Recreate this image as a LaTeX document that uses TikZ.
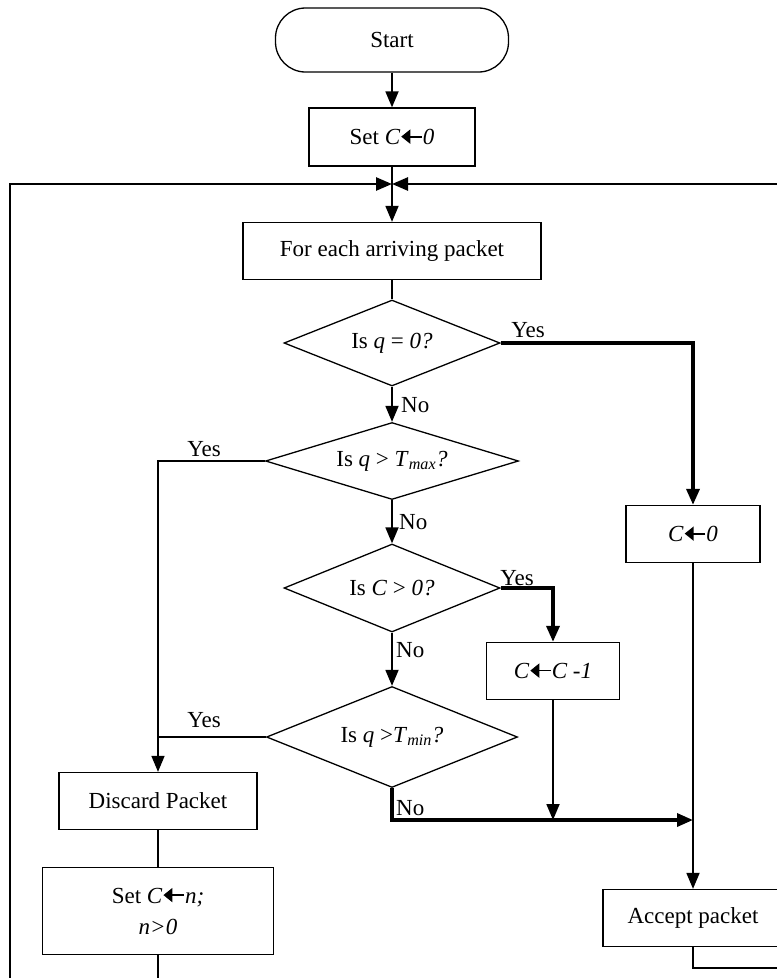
\documentclass[tikz,border=0pt]{standalone}
\usepackage{fontspec}
\setmainfont{Liberation Serif}
\usetikzlibrary{shapes.geometric,arrows.meta}
\newcommand{\larr}{\tikz[baseline=-0.75ex]\draw[line width=1.8pt,-{Triangle[length=9pt,width=14pt]}](0.9em,0)--(0,0);}
\begin{document}
\begin{tikzpicture}[x=1pt,y=-1pt,
  font=\fontsize{23}{31}\selectfont,
  box/.style={draw,rectangle,inner sep=0pt,align=center,line width=1.3pt},
  dia/.style={draw,diamond,shape aspect=2.5,inner sep=0pt,line width=1.3pt},
  conn/.style={line width=1.8pt},
  thk/.style={line width=3.4pt},
  arr/.style={conn,-{Triangle[length=16pt,width=13pt]}},
  lab/.style={inner sep=0pt}]
\clip (0,0) rectangle (777,978);
\node[box,rounded corners=30pt,minimum width=233pt,minimum height=64pt] (start) at (392,40) {Start};
\node[box,minimum width=166pt,minimum height=58pt] (set0) at (392,137) {Set \textit{C}\larr\textit{0}};
\node[box,minimum width=298pt,minimum height=57pt] (foreach) at (392,251) {For each arriving packet};
\node[dia,minimum width=216pt,minimum height=86pt] (d1) at (392,343) {Is \textit{q} = \textit{0?}};
\node[dia,minimum width=253pt,minimum height=77pt] (d2) at (392,461) {Is \textit{q} > \textit{T}\textsubscript{\textit{max}}\textit{?}};
\node[dia,minimum width=216pt,minimum height=88pt] (d3) at (392,588) {Is \textit{C} > \textit{0?}};
\node[dia,minimum width=251pt,minimum height=101pt] (d4) at (392,737) {Is \textit{q} >\textit{T}\textsubscript{\textit{min}}\textit{?}};
\node[box,minimum width=134pt,minimum height=57pt] (c0) at (693,534) {\textit{C}\larr\textit{0}};
\node[box,minimum width=133pt,minimum height=57pt] (cc1) at (553,671) {\textit{C}\larr\textit{C -1}};
\node[box,minimum width=198pt,minimum height=57pt] (discard) at (158,801) {Discard Packet};
\node[box,minimum width=231pt,minimum height=87pt] (setn) at (158,911) {Set \textit{C}\larr\textit{n;}\\\textit{n>0}};
\node[box,minimum width=180pt,minimum height=57pt] (accept) at (693,918) {Accept packet};
% labels
\node[lab] (y1) at (528,330) {Yes};
\node[lab,anchor=west] (n1) at (401,405) {No};
\node[lab] (y2) at (204,449) {Yes};
\node[lab,anchor=west] (n2) at (399,522) {No};
\node[lab] (y3) at (517,578) {Yes};
\node[lab,anchor=west] (n3) at (396,650) {No};
\node[lab] (y4) at (204,720) {Yes};
\node[lab,anchor=west] (n4) at (396,808) {No};
% coordinates
\coordinate (J) at (392,184);
\coordinate (LT) at (10,184);
\coordinate (RT) at (790,184);
\coordinate (LB) at (10,1000);
\coordinate (RB) at (790,968);
\coordinate (M) at (693,820);
% connectors
\draw[arr] (start.south) -- (set0.north);
\draw[arr] (set0.south) -- (foreach.north);
\draw[arr,line width=2.6pt] (setn.south) |- (LB) -- (LT) -- (J);
\draw[arr,line width=2.6pt] (accept.south) |- (RB) -- (RT) -- (J);
\draw[conn] (foreach.south) -- (d1.north);
\draw[arr] (d1.south) -- (d2.north);
\draw[arr,thk] (d1.east) -| (c0.north);
\draw[arr,line width=1.5pt] (d2.west) -| (discard.north);
\draw[arr] (d2.south) -- (d3.north);
\draw[arr,thk] (d3.east) -| (cc1.north);
\draw[arr] (d3.south) -- (d4.north);
\draw[conn,line width=1.5pt] (d4.west) -- (d4.west -| discard.north);
\draw[arr,thk] (d4.south) |- (M);
\draw[arr] (cc1.south) -- (cc1.south |- M);
\draw[arr] (c0.south) -- (accept.north);
\draw[conn] (discard.south) -- (setn.north);
\end{tikzpicture}
\end{document}
